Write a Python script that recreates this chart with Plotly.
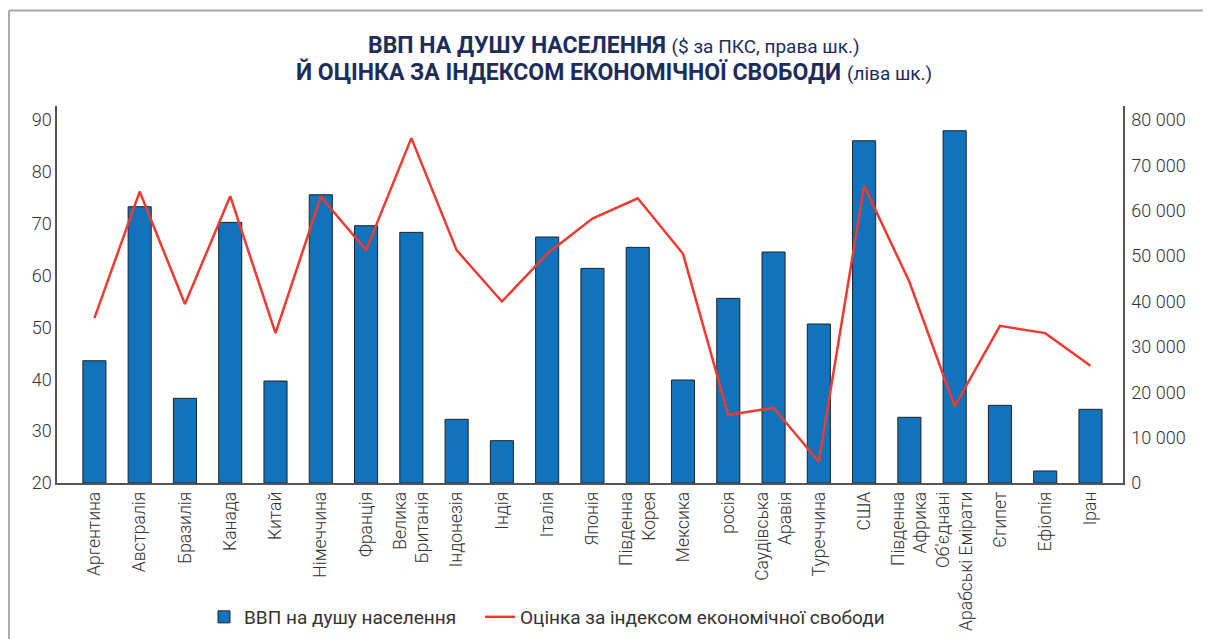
import plotly.graph_objects as go

countries = [
    "Аргентина", "Австралія", "Бразилія", "Канада", "Китай", "Німеччина",
    "Франція", "Велика<br>Британія", "Індонезія", "Індія", "Італія", "Японія",
    "Південна<br>Корея", "Мексика", "росія", "Саудівська<br>Аравія", "Туреччина",
    "США", "Південна<br>Африка", "Об'єднані<br>Арабські Емірати", "Єгипет",
    "Ефіопія", "Іран",
]
gdp_per_capita = [
    26950, 60900, 18670, 57450, 22480, 63540,
    56710, 55250, 14040, 9330, 54220, 47310,
    51940, 22700, 40700, 50910, 35040,
    75440, 14480, 77650, 17120,
    2650, 16240,
]
freedom_index = [
    51.8, 76.2, 54.5, 75.3, 48.9, 75.2,
    64.9, 86.5, 64.9, 55.0, 64.2, 71.0,
    74.9, 64.2, 33.1, 34.5, 24.1,
    77.3, 58.8, 34.8, 50.3,
    48.9, 42.6,
]
left_ticks = [20, 30, 40, 50, 60, 70, 80, 90]
right_ticks = [0, 10000, 20000, 30000, 40000, 50000, 60000, 70000, 80000]
right_ticktext = ["0", "10 000", "20 000", "30 000", "40 000", "50 000", "60 000", "70 000", "80 000"]

x_idx = list(range(len(countries)))
FONT = "Roboto, 'Noto Sans', 'DejaVu Sans', sans-serif"
TXT = "#333333"
NAVY = "#1c2d5c"

# figure is offset by the 8px body margin of the page
W, H = 1203, 631
ML, MT, MR, MB = 49, 98, 88, 156
PW, PH = W - ML - MR, H - MT - MB


def px(x):
    return (x - ML) / PW


def py(y):
    return (H - MB - y) / PH


fig = go.Figure()
fig.add_trace(go.Bar(
    x=x_idx, y=gdp_per_capita, name="ВВП на душу населення    ",
    marker=dict(color="#1173bb", line=dict(color="#222222", width=1)),
    width=0.51, yaxis="y",
))
fig.add_trace(go.Scatter(
    x=x_idx, y=freedom_index, name="Оцінка за індексом економічної свободи",
    mode="lines", line=dict(color="#ee3b31", width=2.5), yaxis="y2",
))

fig.update_layout(
    width=W, height=H,
    paper_bgcolor="white", plot_bgcolor="white",
    margin=dict(l=ML, r=MR, t=MT, b=MB, autoexpand=False),
    font=dict(family=FONT, color=TXT, size=17),
    xaxis=dict(
        range=[-0.826, 22.718], tickvals=x_idx, ticktext=countries,
        tickangle=-90, showline=True, linecolor="#555555", linewidth=1.5,
        showgrid=False, zeroline=False, ticks="", automargin=False,
        tickfont=dict(family=FONT, size=17.5, color=TXT, weight=300),
    ),
    yaxis=dict(
        side="right", range=[0, 83100], tickvals=right_ticks, ticktext=right_ticktext,
        showline=True, linecolor="#555555", linewidth=1.5, showgrid=False,
        zeroline=False, ticks="", ticklabelstandoff=3, automargin=False,
        tickfont=dict(family=FONT, size=18, color=TXT, weight=300),
    ),
    yaxis2=dict(
        side="left", overlaying="y", range=[20, 92.7], tickvals=left_ticks,
        showline=True, linecolor="#555555", linewidth=1.5, showgrid=False,
        zeroline=False, ticks="", automargin=False,
        tickfont=dict(family=FONT, size=18, color=TXT, weight=300),
    ),
    legend=dict(
        orientation="h", x=539 / W, xanchor="center", xref="container",
        y=1 - 609 / H, yanchor="middle", yref="container",
        font=dict(family=FONT, size=19, color=TXT), traceorder="normal",
        itemwidth=30,
    ),
    showlegend=True,
)

# two-line title
fig.add_annotation(
    text="<b>ВВП НА ДУШУ НАСЕЛЕННЯ</b> <span style='font-size:19px'>($ за ПКС, права шк.)</span>",
    xref="paper", yref="paper", x=px(605.5), y=py(37), xanchor="center", yanchor="middle",
    showarrow=False, font=dict(family=FONT, size=23, color=NAVY),
)
fig.add_annotation(
    text="<b>Й ОЦІНКА ЗА ІНДЕКСОМ ЕКОНОМІЧНОЇ СВОБОДИ</b> <span style='font-size:19px'>(ліва шк.)</span>",
    xref="paper", yref="paper", x=px(605.5), y=py(64), xanchor="center", yanchor="middle",
    showarrow=False, font=dict(family=FONT, size=23, color=NAVY),
)

# frame lines (top and left)
fig.add_shape(type="line", xref="paper", yref="paper",
              x0=px(1), x1=px(W + 5), y0=py(2.5), y1=py(2.5),
              line=dict(color="#aaaaaa", width=2))
fig.add_shape(type="line", xref="paper", yref="paper",
              x0=px(1), x1=px(1), y0=py(2.5), y1=py(H + 5),
              line=dict(color="#aaaaaa", width=2))

fig.write_html("out.html")
